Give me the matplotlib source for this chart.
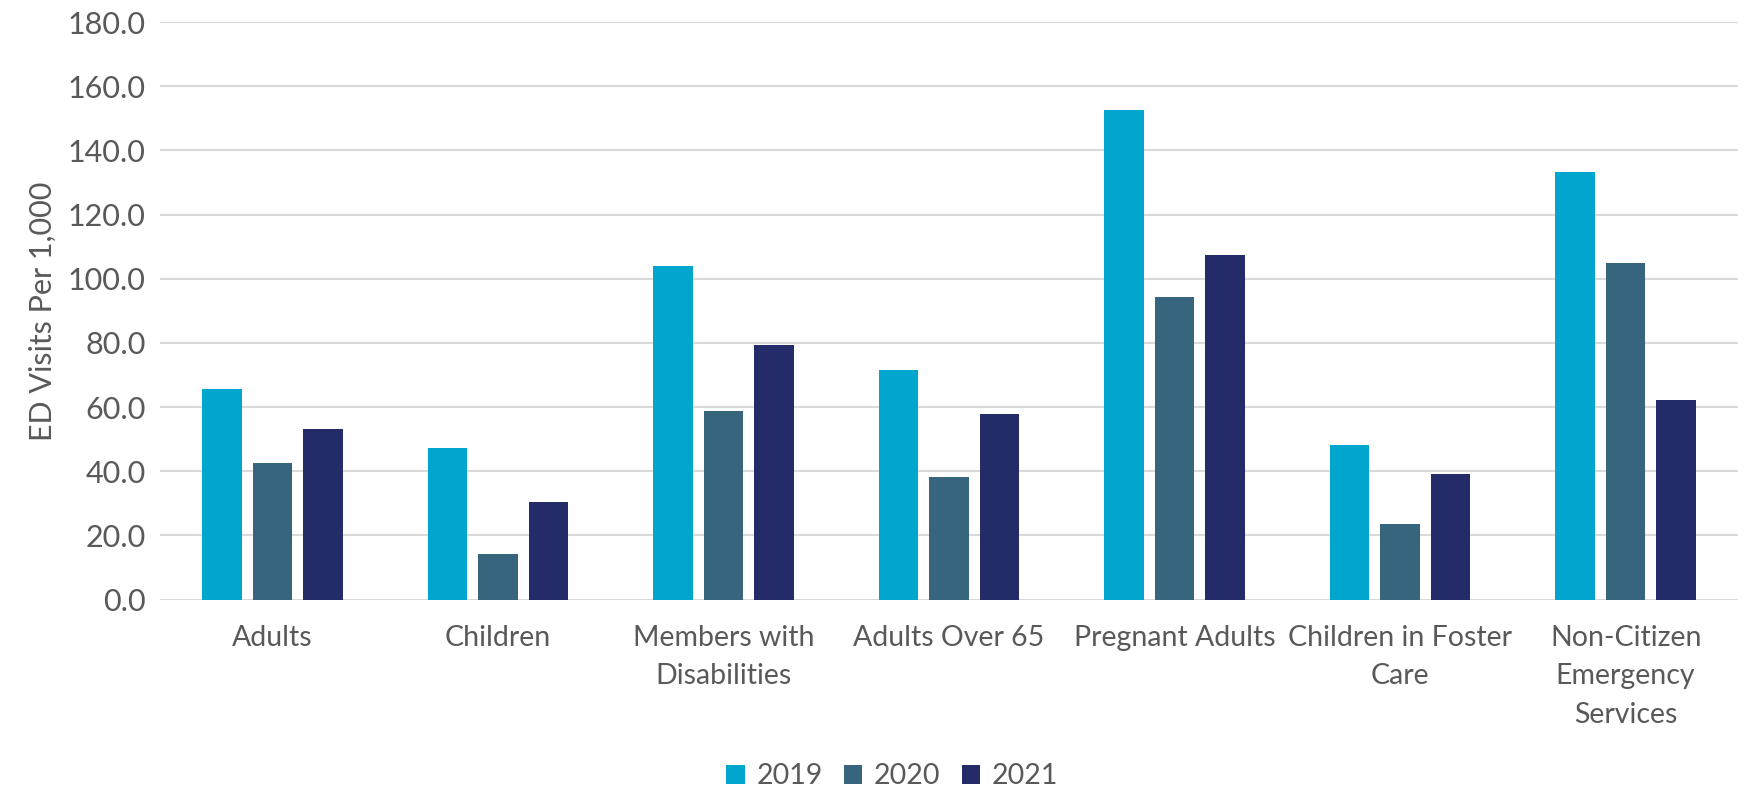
import numpy as np
import matplotlib.pyplot as plt

categories = ['Adults', 'Children', 'Members with\nDisabilities', 'Adults Over 65',
              'Pregnant Adults', 'Children in Foster\nCare', 'Non-Citizen\nEmergency\nServices']
years = ['2019', '2020', '2021']
v2019 = [65.6, 47.3, 103.9, 71.7, 152.6, 48.2, 133.2]
v2020 = [42.5, 14.1, 58.9, 38.2, 94.4, 23.7, 105.0]
v2021 = [53.2, 30.4, 79.3, 58.0, 107.4, 39.1, 62.3]
colors = ['#00A6CE', '#37657E', '#232B69']

plt.rcParams['font.family'] = ['Lato', 'DejaVu Sans']
text_col = '#595959'

fig = plt.figure(figsize=(17.56, 7.91), dpi=100)
ax = fig.add_axes([0.091, 0.242, 0.899, 0.730])

x = np.arange(len(categories))
width = 0.175
step = 0.224
for i, (vals, yr) in enumerate(zip([v2019, v2020, v2021], years)):
    ax.bar(x + (i - 1) * step, vals, width, color=colors[i], label=yr, zorder=3)

ax.set_xlim(-0.5, len(categories) - 0.5)
ax.set_ylim(0, 180)
ax.set_yticks(np.arange(0, 181, 20))
ax.set_yticklabels([f'{t:.1f}' for t in np.arange(0, 181, 20)])
ax.set_xticks(x)
ax.set_xticklabels(categories, va='top', linespacing=1.6)
ax.tick_params(axis='both', length=0, colors=text_col)
ax.tick_params(axis='x', pad=18, labelsize=20.5)
ax.tick_params(axis='y', pad=10, labelsize=22)
ax.yaxis.grid(True, color='#D9D9D9', linewidth=1.5, zorder=0)
for s in ax.spines.values():
    s.set_visible(False)
ax.set_ylabel('ED Visits Per 1,000', color=text_col, fontsize=22, labelpad=8)

fig.legend(loc='lower center', bbox_to_anchor=(0.508, -0.03), ncol=3, frameon=False,
           fontsize=20.5, labelcolor=text_col, handlelength=0.65, handleheight=0.65,
           columnspacing=0.75, handletextpad=0.4)

fig.savefig('out.png', dpi=100)
